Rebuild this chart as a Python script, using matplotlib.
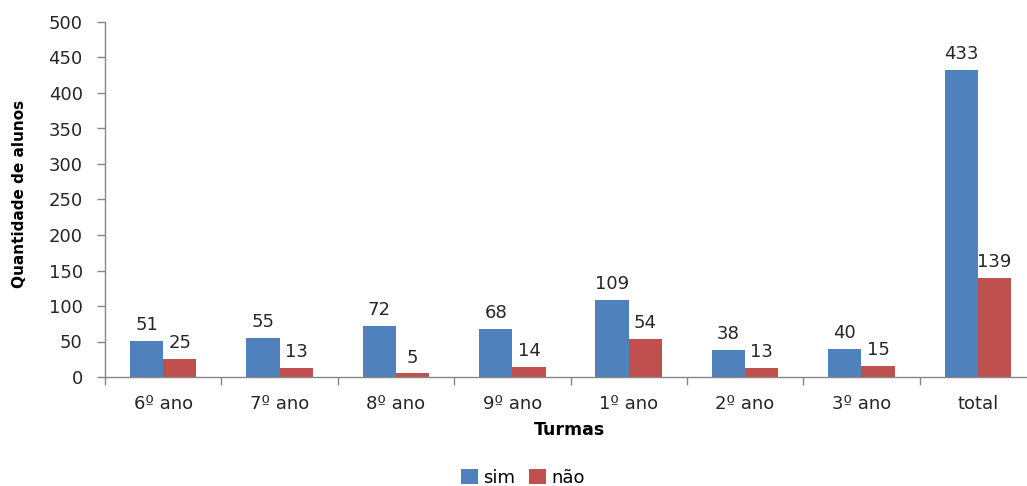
import matplotlib.pyplot as plt
import numpy as np

turmas = ['6º ano', '7º ano', '8º ano', '9º ano', '1º ano', '2º ano', '3º ano', 'total']
sim = [51, 55, 72, 68, 109, 38, 40, 433]
nao = [25, 13, 5, 14, 54, 13, 15, 139]

BLUE = '#4F81BD'
RED = '#C0504D'
AXIS_GRAY = '#868686'
TEXT = '#262626'

plt.rcParams['font.family'] = ['DejaVu Sans']

fig = plt.figure(figsize=(10.27, 4.86), dpi=100)
ax = fig.add_axes([105 / 1027, 109 / 486, 931 / 1027, 355 / 486])

x = np.arange(len(turmas))
width = 1 / 3.5
bars_sim = ax.bar(x - width / 2, sim, width, color=BLUE, label='sim')
bars_nao = ax.bar(x + width / 2, nao, width, color=RED, label='não')

for bars in (bars_sim, bars_nao):
    ax.bar_label(bars, padding=5, fontsize=13, color=TEXT)

ax.set_xlim(-0.5, len(turmas) - 0.5)
ax.set_ylim(0, 500)
ax.set_yticks(np.arange(0, 501, 50))

ax.set_xticks(x)
ax.set_xticklabels(turmas)
ax.set_xticks(np.arange(-0.5, len(turmas)), minor=True)
ax.tick_params(axis='x', which='major', length=0, pad=13, labelsize=13, labelcolor=TEXT)
ax.tick_params(axis='x', which='minor', length=6, width=1, color=AXIS_GRAY)
ax.tick_params(axis='y', length=6, width=1, color=AXIS_GRAY, pad=10, labelsize=13, labelcolor=TEXT)

for side in ('top', 'right'):
    ax.spines[side].set_visible(False)
for side in ('left', 'bottom'):
    ax.spines[side].set_color(AXIS_GRAY)
    ax.spines[side].set_linewidth(1)

fig.text(570 / 1027, 1 - 430 / 486, 'Turmas', ha='center', va='center',
         fontsize=12.5, fontweight='bold', color='black')
fig.text(20 / 1027, 1 - 194 / 486, 'Quantidade de alunos', ha='center', va='center',
         rotation=90, fontsize=11, fontweight='bold', color='black')

fig.legend(handles=[bars_sim, bars_nao], labels=['sim', 'não'], loc='center',
           bbox_to_anchor=(523 / 1027, 1 - 478 / 486), ncol=2, frameon=False,
           fontsize=13, handlelength=0.9, handleheight=0.9, handletextpad=0.3,
           columnspacing=0.8)

fig.savefig('out.png', dpi=100, facecolor='white')
